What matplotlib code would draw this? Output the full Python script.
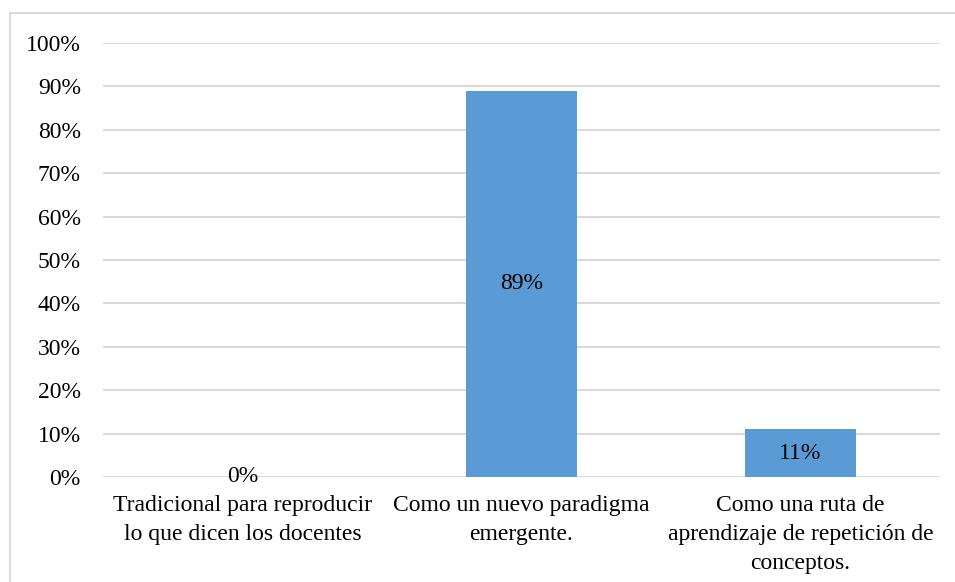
import matplotlib.pyplot as plt
from matplotlib.patches import Rectangle
from matplotlib.ticker import FuncFormatter

categorias = ["Tradicional para reproducir\nlo que dicen los docentes",
              "Como un nuevo paradigma\nemergente.",
              "Como una ruta de\naprendizaje de repetición de\nconceptos."]
valores = [0, 89, 11]
etiquetas = ["0%", "89%", "11%"]

plt.rcParams['font.family'] = ['Liberation Serif', 'DejaVu Serif']

W, H = 955, 582
fig = plt.figure(figsize=(W / 100, H / 100), dpi=100)
fig.patch.set_facecolor("w")

# marco gris del gráfico
fig.patches.append(Rectangle((10 / W, -0.05), 1.0, (H - 13) / H + 0.05,
                             transform=fig.transFigure, fill=False,
                             edgecolor="#d9d9d9", linewidth=1.5))

ax = fig.add_axes([103 / W, 1 - 477 / H, (940 - 103) / W, (477 - 43) / H])
x = range(len(valores))
bars = ax.bar(x, valores, width=0.395, color="#5b9bd5", zorder=3)

for b, v, t in zip(bars, valores, etiquetas):
    ax.text(b.get_x() + b.get_width() / 2, v / 2, t,
            ha="center", va="center", fontsize=17, color="black", zorder=4)

ax.set_xlim(-0.5, 2.5)
ax.set_ylim(0, 100)
ax.set_yticks(range(0, 101, 10))
ax.yaxis.set_major_formatter(FuncFormatter(lambda v, p: "%d%%" % v))
ax.set_xticks(list(x))
ax.set_xticklabels(categorias, fontsize=17, linespacing=1.5)
ax.tick_params(axis="y", labelsize=17, length=0, pad=16)
ax.tick_params(axis="x", length=0, pad=13)
ax.grid(axis="y", color="#d9d9d9", linewidth=1.5, zorder=0)
for s in ax.spines.values():
    s.set_visible(False)

plt.savefig("out.png", dpi=100)
